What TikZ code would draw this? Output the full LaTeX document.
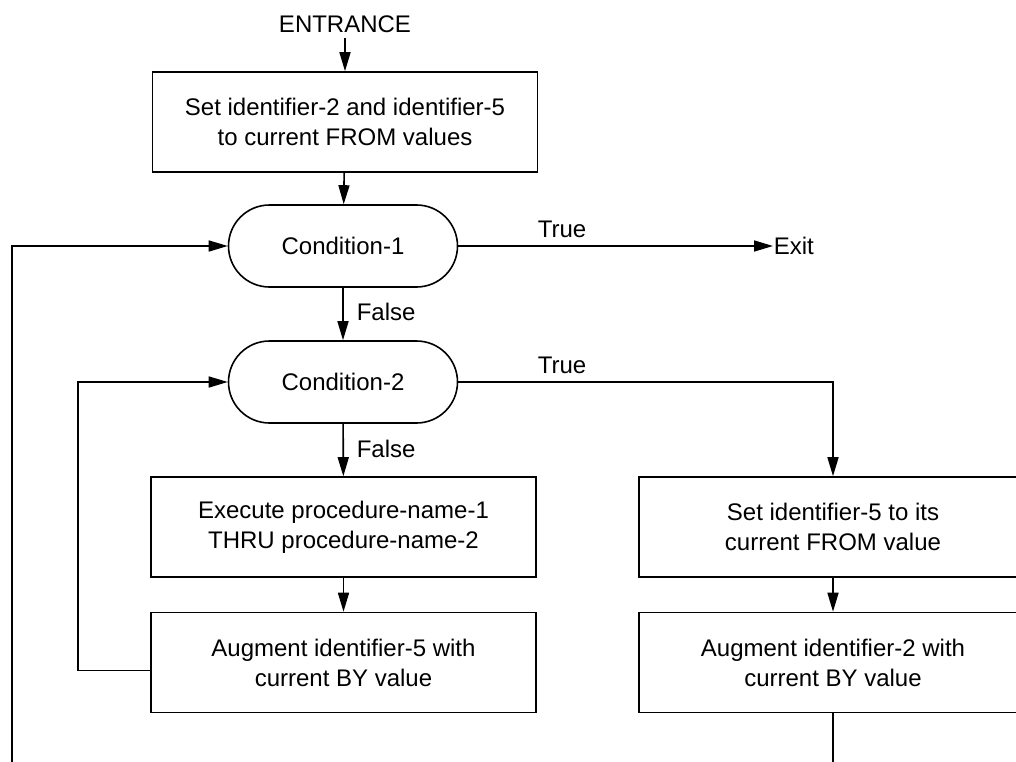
\documentclass[tikz,border=0pt]{standalone}
\usepackage{fontspec}
\setmainfont{Liberation Sans}
\usetikzlibrary{arrows.meta}
\begin{document}
\begin{tikzpicture}[x=1pt,y=-1pt,
  line width=1.6pt,
  >={Triangle[length=19pt,width=11pt]},
  font=\fontsize{24}{30}\selectfont,
  procbox/.style={draw, minimum width=385pt, minimum height=100pt, align=center, inner sep=0pt},
  condbox/.style={draw, rounded corners=41pt, minimum width=229pt, minimum height=82pt, inner sep=0pt},
  lbl/.style={inner sep=0pt}]
\useasboundingbox (0,0) rectangle (1016,762);
\clip (0,0) rectangle (1016,762);
% nodes
\node[lbl, anchor=base] (entrance) at (345,33) {ENTRANCE};
\node[procbox] (box1) at (345,122) {Set identifier-2 and identifier-5\\to current FROM values};
\node[condbox] (cond1) at (343,246) {Condition-1};
\node[lbl, anchor=west] (exit) at (773,246) {Exit};
\node[condbox] (cond2) at (343,382) {Condition-2};
\node[procbox] (box2) at (343.5,527) {Execute procedure-name-1\\THRU procedure-name-2};
\node[procbox] (box3) at (343.5,662.5) {Augment identifier-5 with\\current BY value};
\node[procbox, minimum width=388pt] (box4) at (833,527) {Set identifier-5 to its\\current FROM value};
\node[procbox, minimum width=388pt] (box5) at (833,662.5) {Augment identifier-2 with\\current BY value};
\coordinate (bot1) at (833,770);
\coordinate (bot2) at (12,770);
% labels
\node[lbl, anchor=base] (t1) at (562,237) {True};
\node[lbl, anchor=base] (t2) at (562,373) {True};
\node[lbl, anchor=base west] (f1) at (356,320) {False};
\node[lbl, anchor=base west] (f2) at (356,457) {False};
% connectors
\draw[->] (entrance.south) ++(0,4) -- (box1.north);
\draw[->] (box1) -- (cond1);
\draw[->] (cond1.east) -- (cond1.east -| exit.west);
\draw[->] (cond1) -- (cond2);
\draw[->] (cond2.east) -| (box4.north);
\draw[->] (cond2) -- (box2);
\draw[->] (box2) -- (box3);
\draw[->] (box4) -- (box5);
\draw[->] ([yshift=-8pt]box3.west) -- ++(-72,0) |- (cond2.west);
\draw (box5.south) -- (bot1);
\draw[->] (bot2) |- (cond1.west);
\end{tikzpicture}
\end{document}
